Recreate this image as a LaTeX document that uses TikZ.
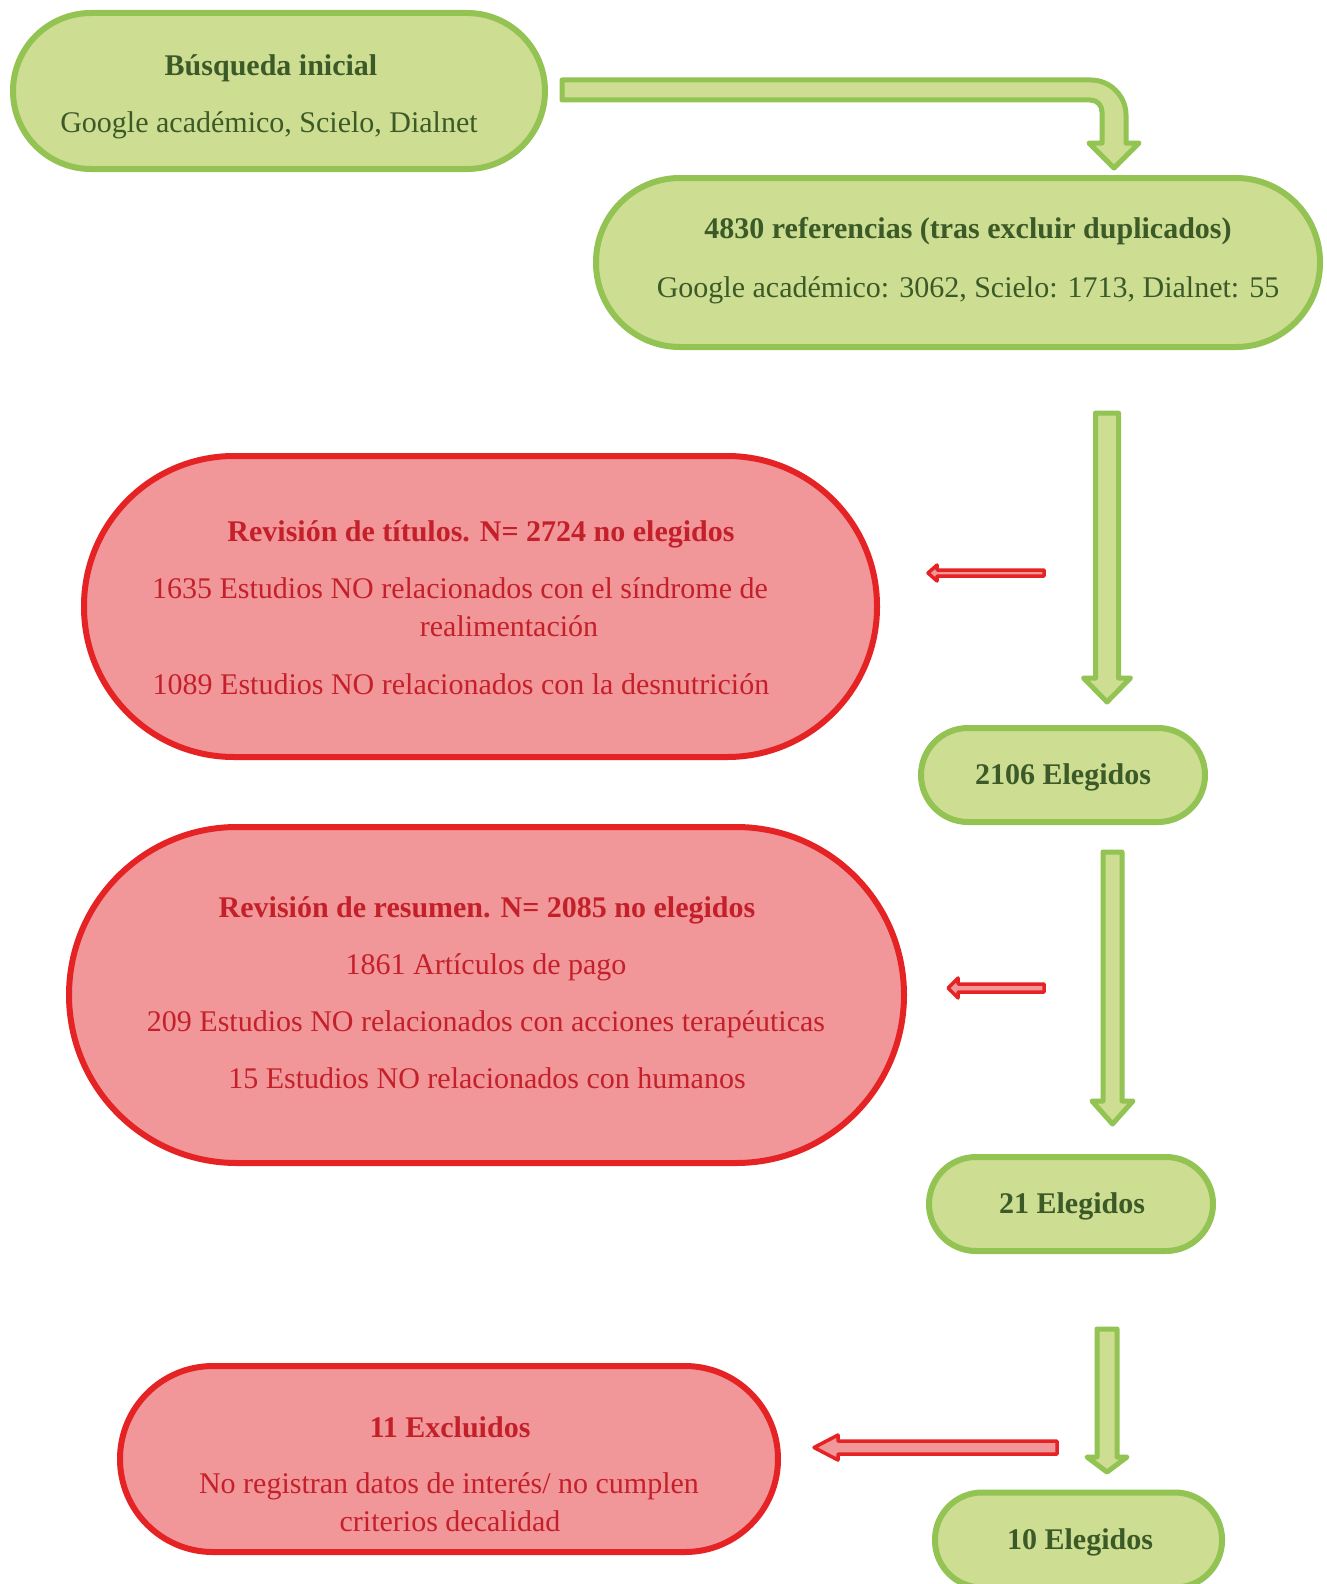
\documentclass[tikz,border=0pt]{standalone}
\usepackage{fontspec}
\setmainfont{Liberation Serif}
\definecolor{gfill}{HTML}{CDDD92}
\definecolor{gline}{HTML}{92C353}
\definecolor{gtext}{HTML}{3C5A28}
\definecolor{rfill}{HTML}{F19699}
\definecolor{rline}{HTML}{E52324}
\definecolor{rtext}{HTML}{C4202A}
\begin{document}
\begin{tikzpicture}[x=1pt,y=-1pt,
  gbox/.style={draw=gline, fill=gfill, line width=6pt, inner sep=0pt},
  rbox/.style={draw=rline, fill=rfill, line width=6pt, inner sep=0pt},
  gtxt/.style={text=gtext, font=\fontsize{30}{36}\selectfont, anchor=base, inner sep=0pt},
  gbold/.style={gtxt, font=\fontsize{30}{36}\selectfont\bfseries},
  rtxt/.style={text=rtext, font=\fontsize{30}{36}\selectfont, anchor=base, inner sep=0pt},
  rbold/.style={rtxt, font=\fontsize{30}{36}\selectfont\bfseries},
  garrow/.style={draw=gline, fill=gfill, line width=5pt, line join=round},
  rarrow/.style={draw=rline, fill=rfill, line width=3.5pt, line join=round}]
\clip (0,0) rectangle (1327,1584);
\fill[white] (0,0) rectangle (1327,1584);

% green boxes
\node[gbox, minimum width=532pt, minimum height=156pt, rounded corners=78pt] (b1) at (279,91) {};
\node[gbox, minimum width=724pt, minimum height=169pt, rounded corners=84pt] (b2) at (958,262.5) {};
\node[gbox, minimum width=284pt, minimum height=94pt, rounded corners=47pt] (e1) at (1063,775) {};
\node[gbox, minimum width=284pt, minimum height=94pt, rounded corners=47pt] (e2) at (1071,1204) {};
\node[gbox, minimum width=287pt, minimum height=95pt, rounded corners=47pt] (e3) at (1078.5,1540) {};

% red boxes
\node[rbox, minimum width=793pt, minimum height=301pt, rounded corners=150pt] (r1) at (480.5,606.5) {};
\node[rbox, minimum width=835pt, minimum height=336pt, rounded corners=168pt] (r2) at (486.5,995) {};
\node[rbox, minimum width=658pt, minimum height=186pt, rounded corners=93pt] (r3) at (449,1459) {};

% texts
\node[gbold] (b1a) at (271,76) {Búsqueda inicial};
\node[gtxt] (b1b) at (269,132) {Google académico, Scielo, Dialnet};
\node[gbold] (b2a) at (968,238) {4830 referencias (tras excluir duplicados)};
\node[gtxt] (b2b) at (968,297) {Google académico: 3062, Scielo: 1713, Dialnet: 55};
\node[gbold] (e1a) at (1063,784) {2106 Elegidos};
\node[gbold] (e2a) at (1072,1213) {21 Elegidos};
\node[gbold] (e3a) at (1080,1549) {10 Elegidos};

\node[rbold] (r1a) at (481,541) {Revisión de títulos. N= 2724 no elegidos};
\node[rtxt] (r1b) at (460,598) {1635 Estudios NO relacionados con el síndrome de};
\node[rtxt] (r1c) at (509,636) {realimentación};
\node[rtxt] (r1d) at (461,694) {1089 Estudios NO relacionados con la desnutrición};

\node[rbold] (r2a) at (487,917) {Revisión de resumen. N= 2085 no elegidos};
\node[rtxt] (r2b) at (486,974) {1861 Artículos de pago};
\node[rtxt] (r2c) at (486,1031) {209 Estudios NO relacionados con acciones terapéuticas};
\node[rtxt] (r2d) at (487,1088) {15 Estudios NO relacionados con humanos};

\node[rbold] (r3a) at (450,1437) {11 Excluidos};
\node[rtxt] (r3b) at (449,1493) {No registran datos de interés/ no cumplen};
\node[rtxt] (r3c) at (450,1531) {criterios decalidad};

% bent arrow b1 -> b2
\draw[garrow] (562,80) -- (1091,80) .. controls (1110,80) and (1126,96) .. (1126,115)
  -- (1126,143) -- (1139,143) -- (1114,168) -- (1089,143) -- (1102,143) -- (1102,112)
  .. controls (1102,105) and (1097,100) .. (1090,100) -- (562,100) -- cycle;

% vertical green arrows
\draw[garrow] (1095.5,413) -- (1118.5,413) -- (1118.5,678) -- (1130.5,678) -- (1107,702)
  -- (1083.5,678) -- (1095.5,678) -- cycle;
\draw[garrow] (1103,852) -- (1122,852) -- (1122,1101) -- (1133,1101) -- (1112.5,1124)
  -- (1092,1101) -- (1103,1101) -- cycle;
\draw[garrow] (1097,1329) -- (1117,1329) -- (1117,1457) -- (1127,1457) -- (1107,1472)
  -- (1087,1457) -- (1097,1457) -- cycle;

% red arrows
\draw[rarrow] (1044,570) -- (937,570) -- (937,565) -- (928,573) -- (937,581) -- (937,576)
  -- (1044,576) -- cycle;
\draw[rarrow] (1044,984) -- (958,984) -- (958,978) -- (948,988) -- (958,998) -- (958,992)
  -- (1044,992) -- cycle;
\draw[rarrow] (1057,1441) -- (838,1441) -- (838,1435) -- (814,1447.5) -- (838,1460) -- (838,1454)
  -- (1057,1454) -- cycle;
\end{tikzpicture}
\end{document}
